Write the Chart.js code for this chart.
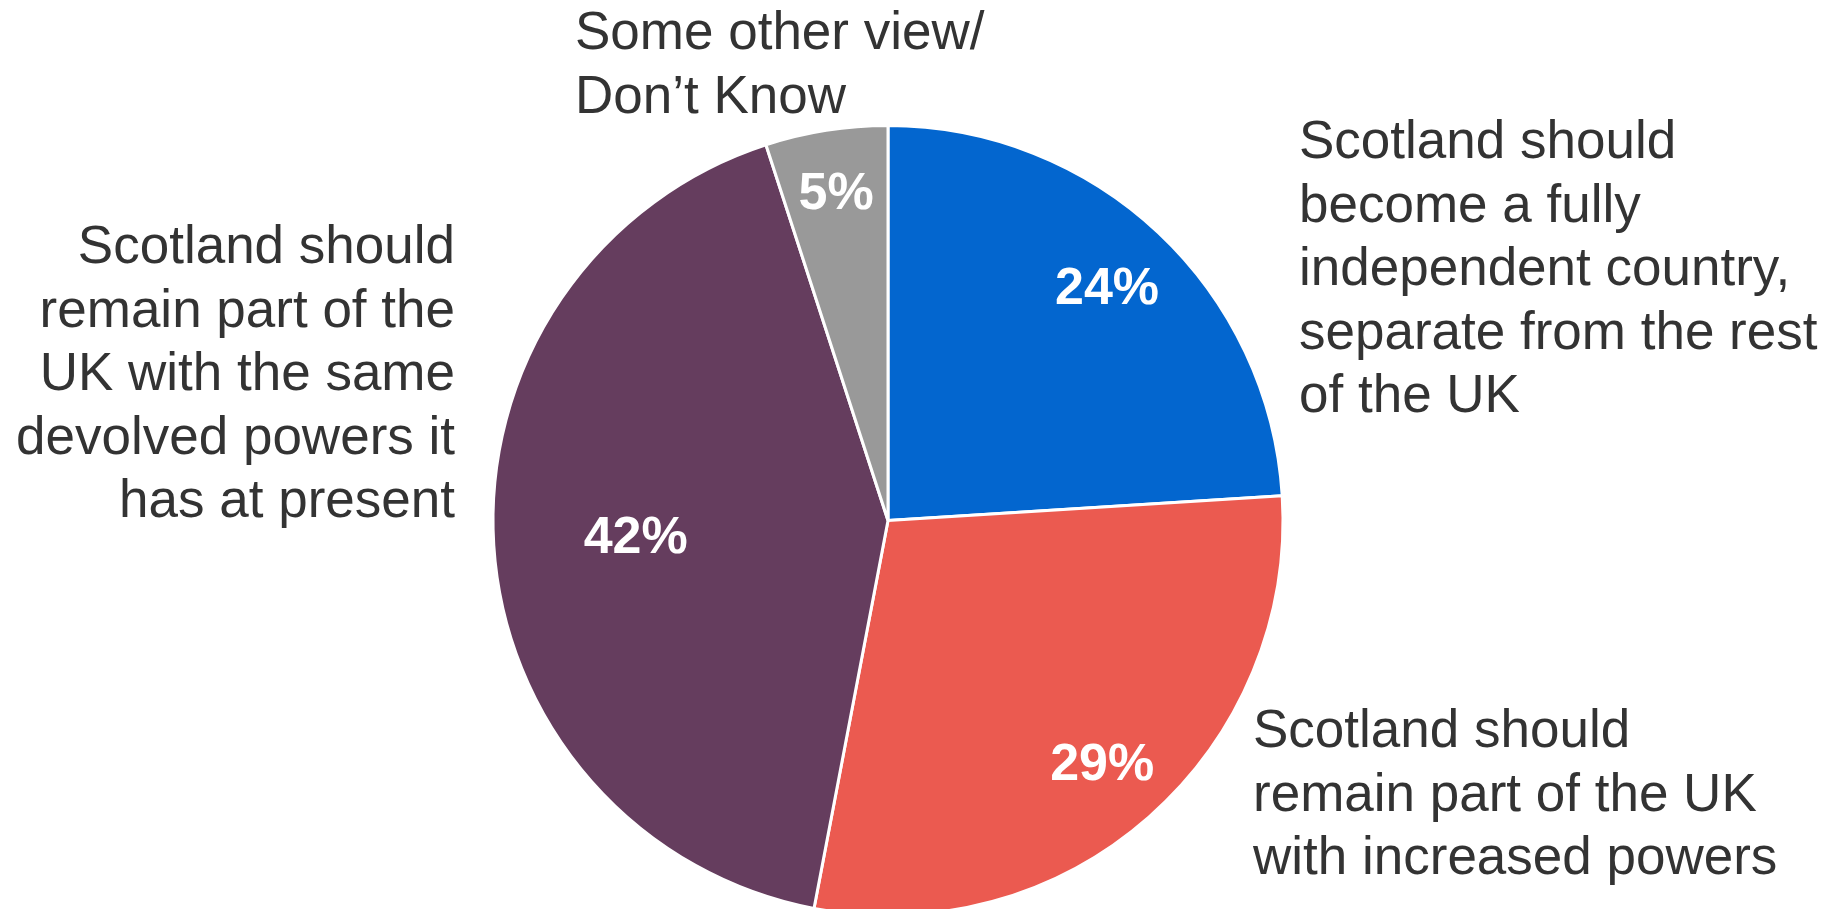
<!DOCTYPE html>
<html lang="en">
  <head>
    <meta charset="UTF-8" />
    <title>Scotland constitutional preference</title>
    <script src="https://cdn.jsdelivr.net/npm/chart.js"></script>
    <style>
      html, body { margin: 0; padding: 0; background: #fff; overflow: hidden; }
      .wrap { position: relative; width: 1836px; height: 940px; }
    </style>
  </head>
  <body>
    <div class="wrap">
      <canvas id="pieChart"></canvas>
    </div>
    <script>
      // data
      const categories = [
        "Scotland should become a fully independent country, separate from the rest of the UK",
        "Scotland should remain part of the UK with increased powers",
        "Scotland should remain part of the UK with the same devolved powers it has at present",
        "Some other view/ Don't Know"
      ];
      const shares = [24, 29, 42, 5];
      const pctLabels = ["24%", "29%", "42%", "5%"];
      const labelLines = [
        ["Scotland should", "become a fully", "independent country,", "separate from the rest", "of the UK"],
        ["Scotland should", "remain part of the UK", "with increased powers"],
        ["Scotland should", "remain part of the", "UK with the same", "devolved powers it", "has at present"],
        ["Some other view/", "Don\u2019t Know"]
      ];
      const sliceColors = ["#0366CF", "#EB5A50", "#653D5E", "#999999"];

      // where each text block sits (first baseline) and how far out the % sits
      const labelSpots = [
        { x: 1299, y: 158, align: "left" },
        { x: 1253, y: 747, align: "left" },
        { x: 455, y: 263, align: "right" },
        { x: 575, y: 49, align: "left" }
      ];
      const pctRadius = [0.81, 0.82, 0.64, 0.84];
      const lineGap = 63.5;

      const textPlugin = {
        id: "pieText",
        afterDatasetsDraw(chart) {
          const ctx = chart.ctx;
          const arcs = chart.getDatasetMeta(0).data;
          ctx.save();
          ctx.fillStyle = "#ffffff";
          ctx.font = "bold 52px 'Liberation Sans', Arial, sans-serif";
          ctx.textAlign = "center";
          ctx.textBaseline = "middle";
          arcs.forEach((arc, i) => {
            const p = arc.getProps(["x", "y", "startAngle", "endAngle", "outerRadius"], true);
            const mid = (p.startAngle + p.endAngle) / 2;
            const r = p.outerRadius * pctRadius[i];
            ctx.fillText(pctLabels[i], p.x + Math.cos(mid) * r, p.y + Math.sin(mid) * r + 2);
          });

          ctx.fillStyle = "#333333";
          ctx.font = "53px 'Liberation Sans', Arial, sans-serif";
          ctx.textBaseline = "alphabetic";
          labelLines.forEach((lines, i) => {
            const spot = labelSpots[i];
            ctx.textAlign = spot.align;
            lines.forEach((line, j) => {
              ctx.fillText(line, spot.x, spot.y + j * lineGap);
            });
          });
          ctx.restore();
        }
      };

      new Chart(document.getElementById("pieChart"), {
        type: "pie",
        data: {
          labels: categories,
          datasets: [
            {
              data: shares,
              backgroundColor: sliceColors,
              borderColor: "#ffffff",
              borderWidth: 3
            }
          ]
        },
        options: {
          responsive: true,
          maintainAspectRatio: false,
          animation: false,
          layout: {
            padding: { left: 491, right: 551, top: 124, bottom: 23 }
          },
          plugins: {
            legend: { display: false },
            tooltip: { enabled: false }
          }
        },
        plugins: [textPlugin]
      });
    </script>
  </body>
</html>
